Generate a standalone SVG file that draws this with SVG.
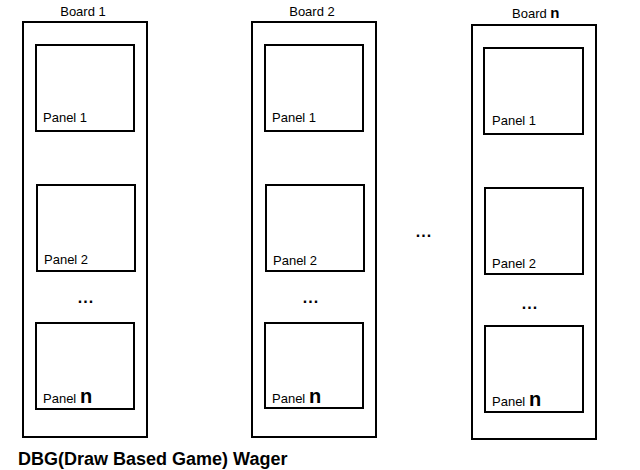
<svg xmlns="http://www.w3.org/2000/svg" width="640" height="470" viewBox="0 0 640 470">
<style>
.board{fill:none;stroke:#000;stroke-width:2}
.panel{fill:none;stroke:#000;stroke-width:2}
text{font-family:"Liberation Sans",Arial,sans-serif;fill:#000}
.lbl{font-size:13px}
.bl{font-size:13px;text-anchor:middle}
.n{font-size:20px;font-weight:bold}
.bn{font-size:15px;font-weight:bold}
.dots{font-size:16px;font-weight:bold;text-anchor:middle;letter-spacing:1px}
.title{font-size:18px;font-weight:bold}
</style>
<rect width="640" height="470" fill="#fff"/>
<g id="board1">
<rect class="board" x="23" y="22" width="124" height="415"/>
<text class="bl" x="83" y="16">Board 1</text>
<g id="board1-panel1"><rect class="panel" x="36" y="45" width="98" height="86"/><text class="lbl" x="43" y="122">Panel 1</text></g>
<g id="board1-panel2"><rect class="panel" x="37" y="185" width="98" height="86"/><text class="lbl" x="44" y="264">Panel 2</text></g>
<text class="dots" x="86" y="303">...</text>
<g id="board1-paneln"><rect class="panel" x="36" y="323" width="98" height="86"/><text class="lbl" x="43" y="403">Panel <tspan class="n">n</tspan></text></g>
</g>
<g id="board2">
<rect class="board" x="252" y="22" width="124" height="415"/>
<text class="bl" x="312" y="16">Board 2</text>
<g id="board2-panel1"><rect class="panel" x="265" y="45" width="98" height="86"/><text class="lbl" x="272" y="122">Panel 1</text></g>
<g id="board2-panel2"><rect class="panel" x="266" y="185" width="98" height="86"/><text class="lbl" x="273" y="265">Panel 2</text></g>
<text class="dots" x="311" y="303">...</text>
<g id="board2-paneln"><rect class="panel" x="265" y="323" width="98" height="85"/><text class="lbl" x="272" y="403">Panel <tspan class="n">n</tspan></text></g>
</g>
<g id="gap-dots"><text class="dots" x="424" y="237">...</text></g>
<g id="boardn">
<rect class="board" x="472" y="25" width="124" height="414"/>
<text class="lbl" x="512" y="18">Board <tspan class="bn">n</tspan></text>
<g id="boardn-panel1"><rect class="panel" x="484" y="48" width="99" height="86"/><text class="lbl" x="492" y="125">Panel 1</text></g>
<g id="boardn-panel2"><rect class="panel" x="485" y="188" width="98" height="86"/><text class="lbl" x="492" y="268">Panel 2</text></g>
<text class="dots" x="530" y="309">...</text>
<g id="boardn-paneln"><rect class="panel" x="485" y="326" width="98" height="86"/><text class="lbl" x="492" y="406">Panel <tspan class="n">n</tspan></text></g>
</g>
<g id="connectors"></g>
<text class="title" x="18" y="465">DBG(Draw Based Game) Wager</text>
</svg>
